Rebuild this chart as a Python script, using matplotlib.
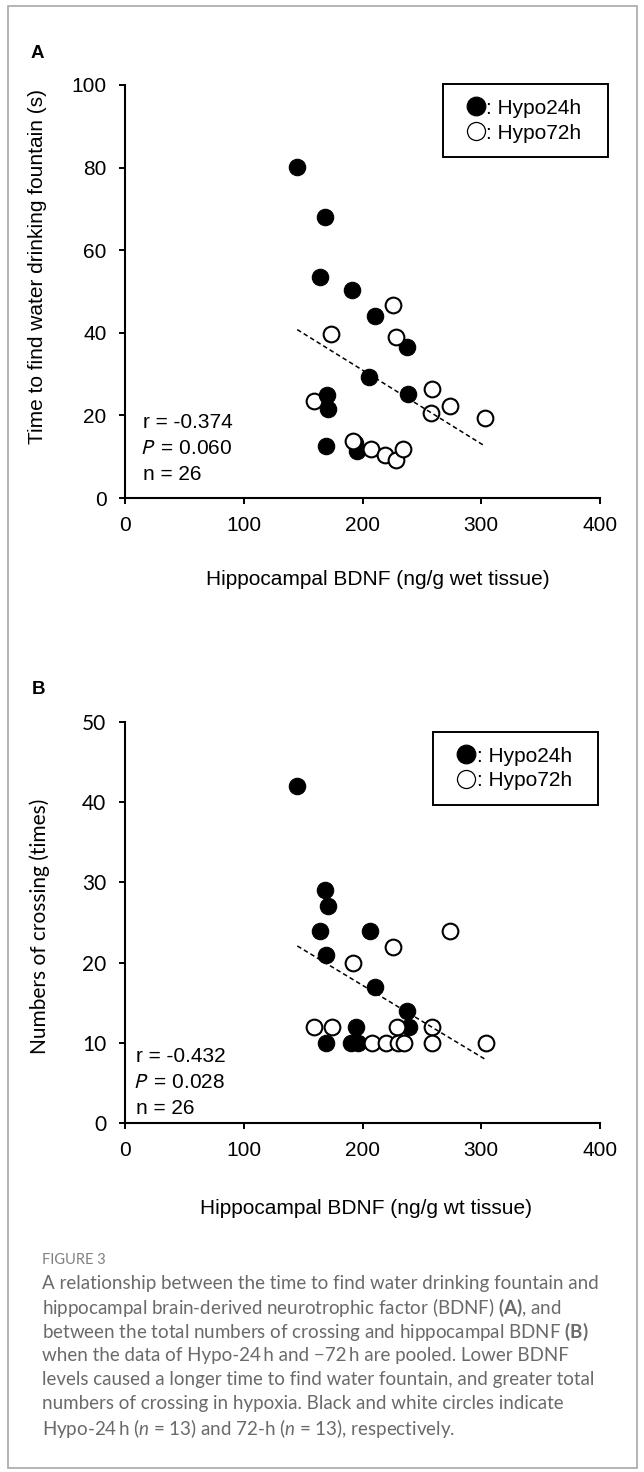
import numpy as np
import matplotlib
matplotlib.use("Agg")
import matplotlib.pyplot as plt
from matplotlib.lines import Line2D
from matplotlib.patches import Rectangle

# ---- data ----
# panel A: time to find water drinking fountain (s)
bdnf_24h_a = [145.0, 168.1, 164.1, 190.8, 210.2, 237.2, 205.6, 238.3, 169.8, 171.2, 169.2, 195.4, 193.5]
time_24h = [80.1, 68.0, 53.6, 50.3, 44.1, 36.6, 29.2, 25.3, 24.9, 21.6, 12.7, 11.3, 13.4]
bdnf_72h_a = [225.8, 173.8, 228.4, 258.3, 273.9, 257.7, 303.2, 159.0, 192.0, 207.3, 219.0, 228.4, 234.4]
time_72h = [46.7, 39.8, 39.1, 26.5, 22.2, 20.6, 19.4, 23.5, 13.7, 11.8, 10.5, 9.2, 11.8]

# panel B: numbers of crossing (times)
bdnf_24h_b = [145.1, 168.2, 171.1, 164.5, 206.1, 169.6, 210.4, 237.5, 194.7, 239.5, 169.1, 190.4, 196.2]
cross_24h = [42, 29, 27, 24, 24, 21, 17, 14, 12, 12, 10, 10, 10]
bdnf_72h_b = [274.0, 226.1, 191.9, 159.1, 174.2, 228.9, 258.3, 207.6, 219.5, 229.8, 235.2, 258.3, 303.6]
cross_72h = [24, 22, 20, 12, 12, 12, 12, 10, 10, 10, 10, 10, 10]

stats_a = ["r = -0.374", "$P$\u2009 = 0.060", "n = 26"]
stats_b = ["r = -0.432", "$P$\u2009 = 0.028", "n = 26"]
xticks = [0, 100, 200, 300, 400]
yticks_a = [0, 20, 40, 60, 80, 100]
yticks_b = [0, 10, 20, 30, 40, 50]

caption = [
    "A relationship between the time to find water drinking fountain and",
    "hippocampal brain-derived neurotrophic factor (BDNF) $\\mathbf{(A)}$, and",
    "between the total numbers of crossing and hippocampal BDNF $\\mathbf{(B)}$",
    "when the data of Hypo-24\u2009h and \u221272\u2009h are pooled. Lower BDNF",
    "levels caused a longer time to find water fountain, and greater total",
    "numbers of crossing in hypoxia. Black and white circles indicate",
    "Hypo-24\u2009h ($n$ = 13) and 72-h ($n$ = 13), respectively.",
]

plt.rcParams["font.family"] = ["Liberation Sans", "DejaVu Sans"]
plt.rcParams["mathtext.fontset"] = "custom"
plt.rcParams["mathtext.rm"] = "Lato"
plt.rcParams["mathtext.it"] = "Lato:italic"
plt.rcParams["mathtext.bf"] = "Lato:bold"

W, H = 644, 1472
fig = plt.figure(figsize=(W / 100, H / 100), dpi=100)


def px_axes(left, top, right, bottom):
    return fig.add_axes([left / W, 1 - bottom / H, (right - left) / W, (bottom - top) / H])


def draw_panel(ax, x24, y24, x72, y72, over24, ylim, yticks):
    x24 = np.array(x24); y24 = np.array(y24)
    x72 = np.array(x72); y72 = np.array(y72)
    top = np.zeros(len(x24), bool)
    top[over24] = True
    ax.scatter(x24[~top], y24[~top], s=140, c="black", edgecolors="black", linewidths=0.8, zorder=3)
    ax.scatter(x72, y72, s=128, c="white", edgecolors="black", linewidths=1.5, zorder=4)
    ax.scatter(x24[top], y24[top], s=140, c="black", edgecolors="black", linewidths=0.8, zorder=4.5)
    # pooled regression line
    xa = np.concatenate([x24, x72]); ya = np.concatenate([y24, y72])
    fit = np.polyfit(xa, ya, 1)
    xs = np.array([xa.min(), xa.max()])
    ax.plot(xs, np.polyval(fit, xs), color="black", lw=1.1, ls=(0, (3, 2)), zorder=6)

    ax.set_xlim(0, 400)
    ax.set_ylim(*ylim)
    ax.set_xticks(xticks)
    ax.set_yticks(yticks)
    for s in ["top", "right"]:
        ax.spines[s].set_visible(False)
    for s in ["left", "bottom"]:
        ax.spines[s].set_linewidth(1.5)
    ax.tick_params(direction="out", length=4.3, width=1.4, labelsize=15, pad=9)


def add_legend(ax, x0, w, top):
    h24 = Line2D([], [], ls="none", marker="o", ms=13.5, mfc="black", mec="black", mew=0.8)
    h72 = Line2D([], [], ls="none", marker="o", ms=13, mfc="white", mec="black", mew=0.9)
    leg = ax.legend([h24, h72], [": Hypo24h", ": Hypo72h"], loc="upper left",
                    bbox_to_anchor=(x0, 0, w, top), mode="expand", borderaxespad=0,
                    fontsize=15, fancybox=False, edgecolor="black", framealpha=1,
                    borderpad=0.7, labelspacing=0.28, handlelength=1.75, handletextpad=-0.37)
    leg.get_frame().set_linewidth(1.4)
    leg.set_zorder(10)


def add_stats(ax, x, y0, step, lines):
    for i, t in enumerate(lines):
        dx = -0.007 if t.startswith("$") else 0  # italic P sits a little right
        ax.text(x + dx, y0 - step * i, t, transform=ax.transAxes, fontsize=15,
                va="center", ha="left", math_fontfamily="stixsans")


# ---- panel A ----
axA = px_axes(125, 85, 600, 498)
draw_panel(axA, bdnf_24h_a, time_24h, bdnf_72h_a, time_72h, [8, 9], (0, 100), yticks_a)
axA.set_xlabel("Hippocampal BDNF (ng/g wet tissue)", fontsize=15)
axA.xaxis.set_label_coords(0.533, -0.174)
axA.set_ylabel("Time to find water drinking fountain (s)", fontsize=15)
axA.yaxis.set_label_coords(-0.165, 0.56)
add_legend(axA, 0.669, 0.347, 1.002)
add_stats(axA, 0.038, 0.182, 0.063, stats_a)

# ---- panel B ----
axB = px_axes(125, 722, 600, 1123)
draw_panel(axB, bdnf_24h_b, cross_24h, bdnf_72h_b, cross_72h, [], (0, 50), yticks_b)
axB.set_xlabel("Hippocampal BDNF (ng/g wt tissue)", fontsize=15)
axB.xaxis.set_label_coords(0.507, -0.19)
axB.set_ylabel("Numbers of crossing (times)", fontsize=15, fontfamily="Lato")
axB.yaxis.set_label_coords(-0.158, 0.49)
for lbl in axB.get_yticklabels():
    lbl.set_fontfamily("Lato")
add_legend(axB, 0.649, 0.346, 0.975)
add_stats(axB, 0.0235, 0.165, 0.064, stats_b)

# panel letters
fig.text(37.5 / W, 1 - 53.5 / H, "A", fontsize=13.5, weight="bold", ha="center", va="center")
fig.text(38.5 / W, 1 - 689 / H, "B", fontsize=13.5, weight="bold", ha="center", va="center")

# caption
cap_font = ["Lato", "DejaVu Sans"]
fig.text(42 / W, 1 - 1260 / H, "FIGURE 3", fontsize=10.5, color="#808080",
         family=cap_font, va="center", ha="left")
for i, line in enumerate(caption):
    fig.text(42 / W, 1 - (1284 + 24 * i) / H, line, fontsize=13.5, color="#6a6a6a",
             family=cap_font, va="center", ha="left")

# light frame round the whole figure
fig.add_artist(Rectangle((8 / W, 1 - 1468 / H), 629 / W, 1462 / H, transform=fig.transFigure,
                         fill=False, ec="#a8a8a8", lw=1.2))

fig.savefig("out.png", dpi=100)
